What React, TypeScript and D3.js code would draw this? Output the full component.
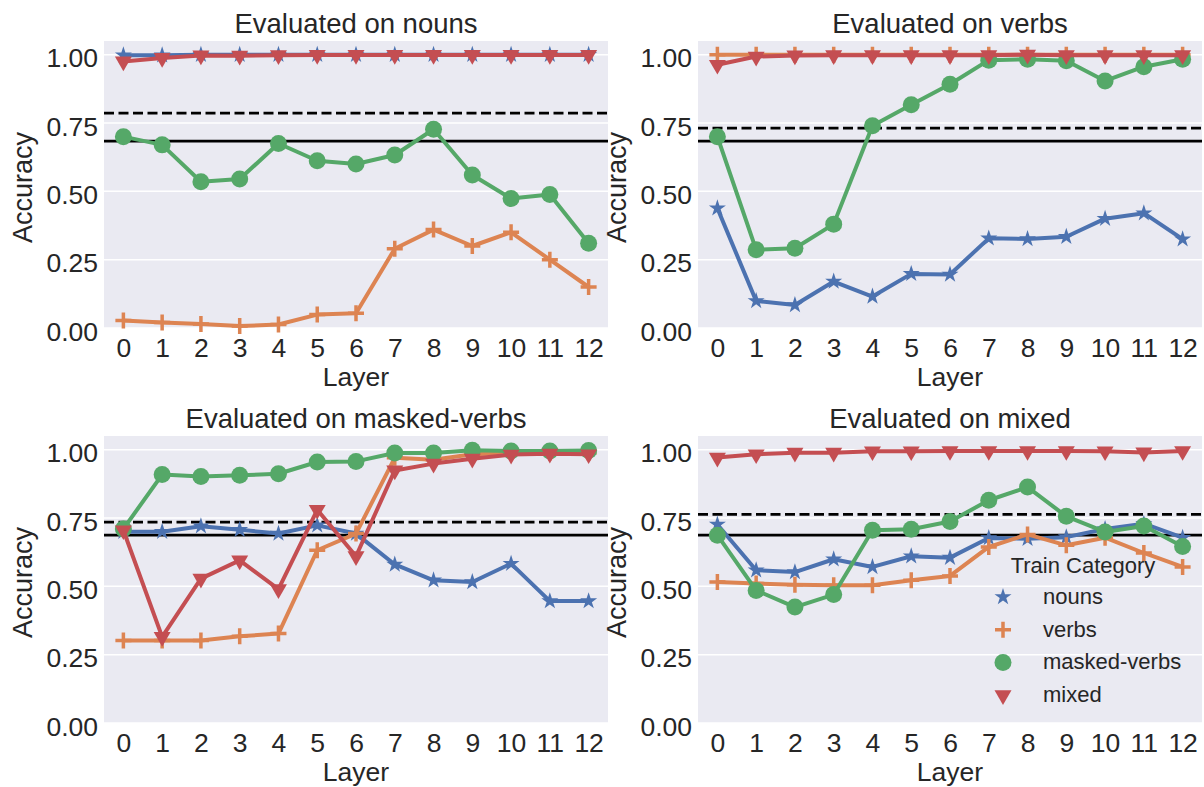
import React, { useEffect, useRef } from "react";
import * as d3 from "d3";

const layers = [0, 1, 2, 3, 4, 5, 6, 7, 8, 9, 10, 11, 12];
const trainCategories = ["nouns", "verbs", "masked-verbs", "mixed"];
const panelTitles = [
  "Evaluated on nouns",
  "Evaluated on verbs",
  "Evaluated on masked-verbs",
  "Evaluated on mixed",
];
const yTicks = [0, 0.25, 0.5, 0.75, 1.0];

// evaluated on nouns
const nounsOnNouns = [0.998, 0.998, 1.0, 1.0, 1.0, 1.0, 1.0, 1.0, 1.0, 1.0, 1.0, 1.0, 1.0];
const verbsOnNouns = [0.027, 0.02, 0.015, 0.007, 0.013, 0.049, 0.054, 0.29, 0.36, 0.3, 0.35, 0.25, 0.15];
const maskedOnNouns = [0.7, 0.67, 0.535, 0.545, 0.675, 0.612, 0.6, 0.633, 0.727, 0.56, 0.474, 0.488, 0.31];
const mixedOnNouns = [0.975, 0.988, 0.997, 0.996, 0.998, 0.999, 0.999, 0.999, 0.999, 0.999, 0.999, 0.999, 0.999];

// evaluated on verbs
const nounsOnVerbs = [0.438, 0.099, 0.084, 0.17, 0.115, 0.198, 0.196, 0.328, 0.326, 0.334, 0.4, 0.42, 0.325];
const verbsOnVerbs = [1.0, 1.0, 1.0, 1.0, 1.0, 1.0, 1.0, 1.0, 1.0, 1.0, 1.0, 1.0, 1.0];
const maskedOnVerbs = [0.7, 0.286, 0.292, 0.38, 0.74, 0.817, 0.892, 0.98, 0.983, 0.978, 0.904, 0.956, 0.983];
const mixedOnVerbs = [0.963, 0.993, 0.997, 0.998, 0.998, 0.998, 0.998, 0.998, 1.0, 0.998, 0.998, 0.998, 0.998];

// evaluated on masked-verbs
const nounsOnMasked = [0.7, 0.7, 0.72, 0.707, 0.693, 0.723, 0.693, 0.58, 0.522, 0.516, 0.583, 0.446, 0.446];
const verbsOnMasked = [0.302, 0.302, 0.302, 0.317, 0.327, 0.632, 0.693, 0.97, 0.963, 0.983, 0.988, 0.99, 0.988];
const maskedOnMasked = [0.71, 0.909, 0.902, 0.906, 0.912, 0.955, 0.957, 0.988, 0.988, 0.998, 0.995, 0.995, 0.997];
const mixedOnMasked = [0.705, 0.315, 0.528, 0.595, 0.49, 0.78, 0.61, 0.924, 0.949, 0.967, 0.982, 0.985, 0.983];

// evaluated on mixed
const nounsOnMixed = [0.726, 0.559, 0.552, 0.599, 0.571, 0.61, 0.605, 0.677, 0.674, 0.68, 0.71, 0.729, 0.678];
const verbsOnMixed = [0.516, 0.51, 0.506, 0.504, 0.504, 0.522, 0.538, 0.644, 0.69, 0.65, 0.678, 0.622, 0.571];
const maskedOnMixed = [0.687, 0.485, 0.424, 0.47, 0.705, 0.709, 0.737, 0.815, 0.863, 0.756, 0.699, 0.721, 0.646];
const mixedOnMixed = [0.971, 0.983, 0.989, 0.989, 0.994, 0.994, 0.995, 0.995, 0.995, 0.995, 0.994, 0.99, 0.995];

// reference lines per panel
const dashedRefs = [0.786, 0.731, 0.735, 0.763];
const solidRefs = [0.684, 0.684, 0.687, 0.687];

const colors = ["#4C72B0", "#DD8452", "#55A868", "#C44E52"];
const markers = ["star", "plus", "circle", "triangle"];
const font = "'Liberation Sans', Arial, sans-serif";
const textColor = "#262626";

type Box = { left: number; right: number; top: number; bottom: number };

function drawMarker(g: any, kind: string, x: number, y: number, color: string) {
  if (kind === "star") {
    g.append("path")
      .attr("d", d3.symbol().type(d3.symbolStar).size(90)())
      .attr("transform", `translate(${x},${y})`)
      .attr("fill", color);
  } else if (kind === "plus") {
    g.append("path")
      .attr("d", `M${x - 8},${y}H${x + 8}M${x},${y - 8}V${y + 8}`)
      .attr("stroke", color)
      .attr("stroke-width", 3.5)
      .attr("fill", "none");
  } else if (kind === "circle") {
    g.append("circle").attr("cx", x).attr("cy", y).attr("r", 8.5).attr("fill", color);
  } else {
    g.append("path")
      .attr("d", d3.symbol().type(d3.symbolTriangle).size(125)())
      .attr("transform", `translate(${x},${y}) rotate(180)`)
      .attr("fill", color);
  }
}

export default function App() {
  const svgRef = useRef(null);

  useEffect(() => {
    const svg = d3.select(svgRef.current);
    svg.selectAll("*").remove();

    const panelSeries = [
      [nounsOnNouns, verbsOnNouns, maskedOnNouns, mixedOnNouns],
      [nounsOnVerbs, verbsOnVerbs, maskedOnVerbs, mixedOnVerbs],
      [nounsOnMasked, verbsOnMasked, maskedOnMasked, mixedOnMasked],
      [nounsOnMixed, verbsOnMixed, maskedOnMixed, mixedOnMixed],
    ];

    const boxes: Box[] = [
      { left: 104, right: 608, top: 41, bottom: 328 },
      { left: 698, right: 1202, top: 41, bottom: 328 },
      { left: 104, right: 608, top: 436, bottom: 723 },
      { left: 698, right: 1202, top: 436, bottom: 723 },
    ];

    boxes.forEach((b, p) => {
      const x = d3.scaleLinear().domain([-0.5, 12.5]).range([b.left, b.right]);
      const y = d3.scaleLinear().domain([0, 1.05]).range([b.bottom, b.top]);
      const g = svg.append("g");

      g.append("rect")
        .attr("x", b.left)
        .attr("y", b.top)
        .attr("width", b.right - b.left)
        .attr("height", b.bottom - b.top)
        .attr("fill", "#EAEAF2");

      g.selectAll(".grid")
        .data(yTicks)
        .enter()
        .append("line")
        .attr("x1", b.left)
        .attr("x2", b.right)
        .attr("y1", (d) => y(d))
        .attr("y2", (d) => y(d))
        .attr("stroke", "#fff")
        .attr("stroke-width", 1.5);

      // y ticks
      const yAxis = d3.axisLeft(y).tickValues(yTicks).tickSize(0).tickFormat(d3.format(".2f"));
      const ya = g.append("g").attr("transform", `translate(${b.left - 6},0)`).call(yAxis);
      ya.select(".domain").remove();
      ya.selectAll("text")
        .attr("dy", 12)
        .attr("x", 0)
        .style("font-family", font)
        .style("font-size", "26.5px")
        .attr("fill", textColor);

      // x ticks
      const xAxis = d3.axisBottom(x).tickValues(layers).tickSize(0).tickFormat(d3.format("d"));
      const xa = g.append("g").attr("transform", `translate(0,${b.bottom})`).call(xAxis);
      xa.select(".domain").remove();
      xa.selectAll("text")
        .attr("y", 29)
        .attr("dy", 0)
        .style("font-family", font)
        .style("font-size", "26.5px")
        .attr("fill", textColor);

      // reference lines
      g.append("line")
        .attr("x1", b.left)
        .attr("x2", b.right)
        .attr("y1", y(dashedRefs[p]))
        .attr("y2", y(dashedRefs[p]))
        .attr("stroke", "#000")
        .attr("stroke-width", 2.8)
        .attr("stroke-dasharray", "10,4.5");
      g.append("line")
        .attr("x1", b.left)
        .attr("x2", b.right)
        .attr("y1", y(solidRefs[p]))
        .attr("y2", y(solidRefs[p]))
        .attr("stroke", "#000")
        .attr("stroke-width", 2.8);

      // series
      panelSeries[p].forEach((vals, s) => {
        const line = d3
          .line<number>()
          .x((d, i) => x(layers[i]))
          .y((d) => y(d));
        g.append("path")
          .attr("d", line(vals))
          .attr("fill", "none")
          .attr("stroke", colors[s])
          .attr("stroke-width", 4)
          .attr("stroke-linejoin", "round");
        vals.forEach((v, i) => drawMarker(g, markers[s], x(layers[i]), y(v), colors[s]));
      });

      const cx = (b.left + b.right) / 2;
      g.append("text")
        .attr("x", cx)
        .attr("y", b.top - 8)
        .attr("text-anchor", "middle")
        .style("font-family", font)
        .style("font-size", "27.5px")
        .attr("fill", textColor)
        .text(panelTitles[p]);

      g.append("text")
        .attr("x", cx)
        .attr("y", b.bottom + 58)
        .attr("text-anchor", "middle")
        .style("font-family", font)
        .style("font-size", "26.5px")
        .attr("fill", textColor)
        .text("Layer");

      g.append("text")
        .attr("transform", `translate(${b.left - 72},${(b.top + b.bottom) / 2 + 3}) rotate(-90)`)
        .attr("text-anchor", "middle")
        .style("font-family", font)
        .style("font-size", "27px")
        .attr("fill", textColor)
        .text("Accuracy");
    });

    // legend in the last panel
    const lg = svg.append("g");
    lg.append("text")
      .attr("x", 1083)
      .attr("y", 573)
      .attr("text-anchor", "middle")
      .style("font-family", font)
      .style("font-size", "22px")
      .attr("fill", textColor)
      .text("Train Category");
    trainCategories.forEach((name, i) => {
      const base = 604 + i * 32.7;
      drawMarker(lg, markers[i], 1003, base - 7, colors[i]);
      lg.append("text")
        .attr("x", 1043)
        .attr("y", base)
        .style("font-family", font)
        .style("font-size", "22px")
        .attr("fill", textColor)
        .text(name);
    });
  }, []);

  return (
    <svg
      ref={svgRef}
      width={1204}
      height={787}
      style={{ position: "absolute", left: 0, top: 0, background: "#fff" }}
    />
  );
}
